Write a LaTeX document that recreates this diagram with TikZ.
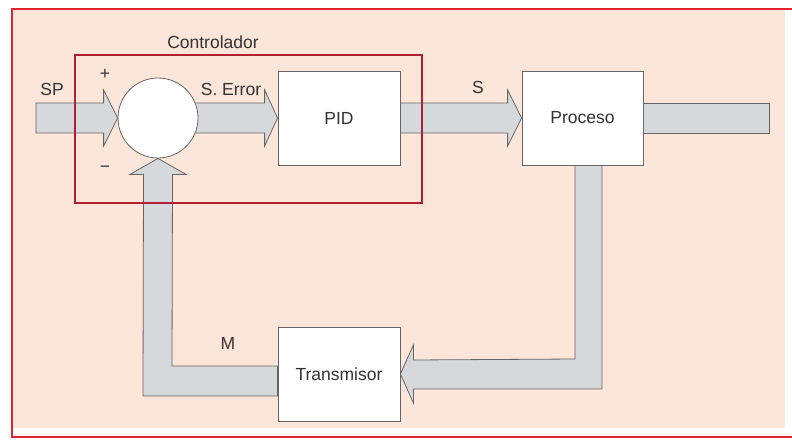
\documentclass[tikz,border=0pt]{standalone}
\usepackage{fontspec}
\setmainfont{Liberation Sans}
\usetikzlibrary{calc}
\definecolor{bgpink}{RGB}{252,229,217}
\definecolor{framered}{RGB}{228,36,46}
\definecolor{ctrlred}{RGB}{178,30,52}
\definecolor{shaftgray}{RGB}{214,217,219}
\definecolor{edgegray}{RGB}{105,100,100}
\pgfdeclarelayer{bg}\pgfdeclarelayer{arr}\pgfsetlayers{bg,arr,main}
\begin{document}
\begin{tikzpicture}[x=1pt,y=-1pt, font=\fontsize{17.5}{21}\selectfont,
  blockbox/.style={draw=edgegray, fill=white, line width=0.8pt, minimum width=122pt, minimum height=94pt, inner sep=0, text=black!80},
  flow/.style={draw=edgegray, fill=shaftgray, line width=0.8pt, line join=miter},
  lbl/.style={inner sep=0, text=black!80}]
\useasboundingbox (0,0) rectangle (792,439);
% nodes
\node[circle, draw=edgegray, fill=white, minimum size=80pt, inner sep=0, line width=0.8pt] (sum) at (158,118) {};
\node[blockbox] (pid) at (339,118) {PID};
\node[blockbox, minimum width=121pt] (proc) at (582.5,118) {Proceso};
\node[blockbox] (trans) at (339,374) {Transmisor};
\node[draw=ctrlred, line width=2.5pt, minimum width=347pt, minimum height=148pt, inner sep=0] (ctrl) at (248.5,129) {};
\coordinate (sp) at (36,118);
\coordinate (out) at (769,118);
\coordinate (fb) at (588.5,374);
\coordinate (fm) at (157.5,381);
% labels
\node[lbl] (lctrl) at (213,42) {Controlador};
\node[lbl] (lsp) at (52,89) {SP};
\node[lbl] (lplus) at (105,74) {+};
\node[lbl] (lminus) at (105,169) {−};
\node[lbl] (lerr) at (231,89) {S. Error};
\node[lbl] (ls) at (478,87) {S};
\node[lbl] (lm) at (228,343) {M};
% background and frame
\begin{pgfonlayer}{bg}
\fill[bgpink] (12,10) rectangle (785,428);
\draw[framered, line width=2.5pt] (792,9) -- (12,9) -- (12,437) -- (792,437);
\end{pgfonlayer}
% block arrows
\begin{pgfonlayer}{arr}
\draw[flow] ($(sp)+(0,-15)$) -- ($(sum.west)+(-14,-15)$) -- ++(0,-13) -- (sum.west) -- ++(-14,28) -- ++(0,-13) -- ($(sp)+(0,15)$) -- cycle;
\draw[flow] ($(sum.center)+(0,-15)$) -- ($(pid.west)+(-13,-15)$) -- ++(0,-13) -- (pid.west) -- ++(-13,28) -- ++(0,-13) -- ($(sum.center)+(0,15)$) -- cycle;
\draw[flow] ($(pid.east)+(0,-15)$) -- ($(proc.west)+(-14,-15)$) -- ++(0,-13) -- (proc.west) -- ++(-14,28) -- ++(0,-13) -- ($(pid.east)+(0,15)$) -- cycle;
\draw[flow] ($(proc.east)+(0,-15)$) rectangle ($(out)+(0,15)$);
\draw[flow] ($(fb |- proc.south)+(-13.5,0)$) -- ($(fb |- proc.south)+(13.5,0)$) -- ($(fb)+(13.5,15)$) -- ($(trans.east)+(13,15)$) -- ++(0,14) -- (trans.east) -- ++(13,-29) -- ++(0,15) -- ($(fb)+(-13.5,-15)$) -- cycle;
\draw[flow] ($(trans.west |- fm)+(0,-15)$) -- ($(fm)+(14.5,-15)$) -- ($(sum.south)+(14.5,16)$) -- ++(13.5,0) -- (sum.south) -- ($(sum.south)+(-28,16)$) -- ++(13.5,0) -- ($(fm)+(-14.5,15)$) -- ($(trans.west |- fm)+(0,15)$) -- cycle;
\end{pgfonlayer}
\end{tikzpicture}
\end{document}
